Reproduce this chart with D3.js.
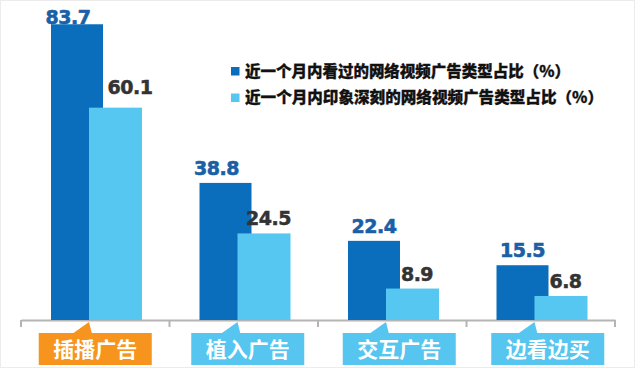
<!DOCTYPE html>
<html><head><meta charset="utf-8">
<script src="https://cdn.jsdelivr.net/npm/d3@7"></script>
<style>
html,body{margin:0;padding:0;background:#fff;}
svg{display:block;}
</style></head>
<body><svg id="c" width="640" height="371"></svg>
<script>
const categories = ["插播广告", "植入广告", "交互广告", "边看边买"];
const seriesNames = ["近一个月内看过的网络视频广告类型占比（%）", "近一个月内印象深刻的网络视频广告类型占比（%）"];
const seenValues = [83.7, 38.8, 22.4, 15.5];
const impressedValues = [60.1, 24.5, 8.9, 6.8];
const boxColors = ["#f7941d", "#56c5f0", "#56c5f0", "#56c5f0"];

const darkBlue = "#0a6ebd", lightBlue = "#56c7f1";
const svg = d3.select("#c");
const W = 640, H = 371;

const x = d3.scaleBand().domain(categories).range([21, 615]).padding(0);
const sub = d3.scaleOrdinal().domain([0, 1]).range([30, 68]);
const y = d3.scaleLinear().domain([0, 90]).range([320, 2]);
const bw = 52;

// axis
const axis = d3.axisBottom(x).tickSize(0).tickFormat("");
const ag = svg.append("g").attr("transform", "translate(0,320)").call(axis);
ag.select(".domain").attr("stroke", "#b4b4b4").attr("stroke-width", 2);
const tickPos = x.domain().map(d => x(d)).concat([x.range()[1]]);
ag.selectAll("line.sep").data(tickPos).enter().append("line")
  .attr("x1", d => d).attr("x2", d => d).attr("y1", 0).attr("y2", 7)
  .attr("stroke", "#b4b4b4").attr("stroke-width", 2);

// bars
const g = svg.append("g");
g.selectAll("rect.s0").data(seenValues).enter().append("rect")
  .attr("x", (d, i) => x(categories[i]) + sub(0)).attr("width", bw)
  .attr("y", d => y(d)).attr("height", d => y(0) - y(d)).attr("fill", darkBlue);
g.selectAll("rect.s1").data(impressedValues).enter().append("rect")
  .attr("x", (d, i) => x(categories[i]) + sub(1)).attr("width", bw + 1)
  .attr("y", d => y(d)).attr("height", d => y(0) - y(d)).attr("fill", lightBlue);

// value labels
const lblFont = "'DejaVu Sans', sans-serif";
g.selectAll("text.v0").data(seenValues).enter().append("text")
  .attr("x", (d, i) => x(categories[i]) + sub(0) + bw / 2 - (i < 2 ? 9 : 0))
  .attr("y", d => Math.max(y(d) - 8, 24))
  .attr("text-anchor", "middle").attr("font-family", lblFont).attr("font-weight", "bold")
  .attr("font-size", 19).attr("fill", "#1b5fa6").attr("stroke", "#1b5fa6").attr("stroke-width", 0.6)
  .attr("letter-spacing", -0.5)
  .text(d => d.toFixed(1));
g.selectAll("text.v1").data(impressedValues).enter().append("text")
  .attr("x", (d, i) => x(categories[i]) + sub(1) + bw / 2 + (i === 0 ? 15 : 5))
  .attr("y", (d, i) => y(d) - (i === 0 ? 14 : 8))
  .attr("text-anchor", "middle").attr("font-family", lblFont).attr("font-weight", "bold")
  .attr("font-size", 19).attr("fill", "#333333").attr("stroke", "#333333").attr("stroke-width", 0.5)
  .attr("letter-spacing", -0.5)
  .text(d => d.toFixed(1));

// category boxes with pointers
const boxW = 113, boxTop = 333, boxH = 32;
const cg = svg.append("g");
categories.forEach((c, i) => {
  const cx = x(c) + x.bandwidth() / 2 + [0, 4, 7, 7][i];
  const left = cx - boxW / 2;
  const apex = x(c) + sub(1);
  cg.append("path")
    .attr("d", `M${apex - 17},${boxTop + 1} L${apex},${322} L${apex + 3},${boxTop + 1} Z`)
    .attr("fill", boxColors[i]);
  cg.append("rect").attr("x", left).attr("y", boxTop).attr("width", boxW).attr("height", boxH)
    .attr("fill", boxColors[i]);
  cg.append("text").attr("x", cx).attr("y", boxTop + boxH / 2 + 7.5)
    .attr("text-anchor", "middle").attr("font-family", "'Noto Sans CJK SC', sans-serif")
    .attr("font-weight", "bold").attr("font-size", 21).attr("fill", "#ffffff")
    .text(c);
});

// legend
const lg = svg.append("g");
const colors = [darkBlue, lightBlue];
seriesNames.forEach((s, i) => {
  const yy = 67 + i * 26.5;
  lg.append("rect").attr("x", 231).attr("y", yy).attr("width", 8.5).attr("height", 8.5).attr("fill", colors[i]);
  lg.append("text").attr("x", 245).attr("y", yy + 9.5)
    .attr("font-family", "'Noto Sans CJK SC', sans-serif").attr("font-weight", "900")
    .attr("font-size", 15.5).attr("fill", "#111").attr("stroke", "#111").attr("stroke-width", 0.3)
    .attr("textLength", i === 0 ? 325 : 358)
    .attr("lengthAdjust", "spacingAndGlyphs")
    .text(s);
});

// faint frame
svg.append("rect").attr("x", 0.5).attr("y", 0.5).attr("width", W - 6).attr("height", H - 4)
  .attr("fill", "none").attr("stroke", "#ececec");
</script>
</body></html>
